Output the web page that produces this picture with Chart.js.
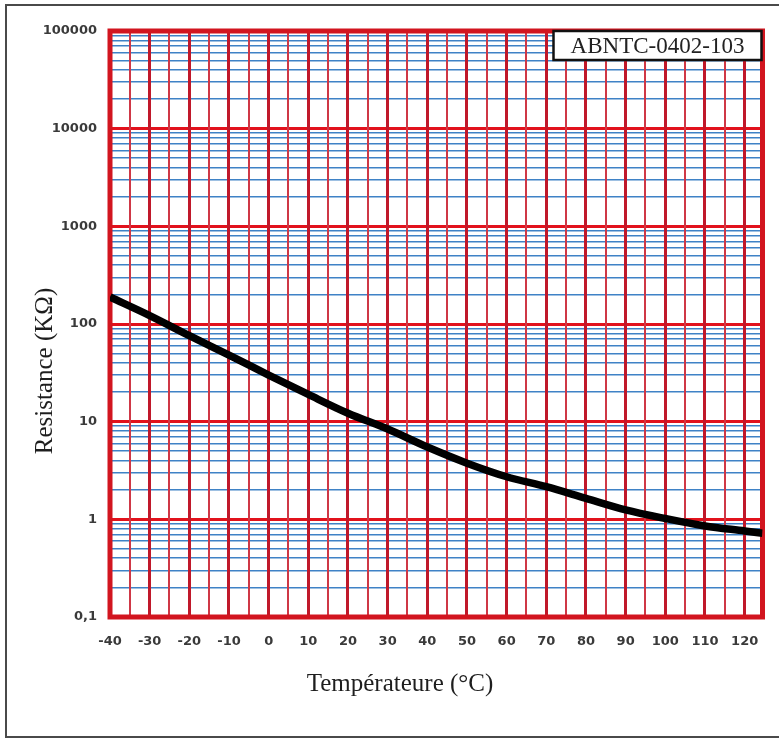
<!DOCTYPE html>
<html><head><meta charset="utf-8">
<script src="https://cdn.jsdelivr.net/npm/chart.js@4"></script>
<style>
html,body{margin:0;padding:0;background:#fff;overflow:hidden;}
#wrap{position:relative;width:779px;height:738px;background:#fff;}
#frame{position:absolute;left:5px;top:4px;width:800px;height:734px;border:2px solid #4a4a4a;box-sizing:border-box;pointer-events:none;}
canvas{position:absolute;left:0;top:0;}
</style></head><body>
<div id="wrap"><canvas id="c" width="779" height="738"></canvas><div id="frame"></div></div>
<script>
// ---- data ----
const temperatures = [-40, -30, -20, -10, 0, 10, 20, 30, 40, 50, 60, 70, 80, 90, 100, 110, 120, 124.5];
const resistance   = [189, 122, 76, 48, 30, 19, 12.2, 8.4, 5.5, 3.76, 2.73, 2.16, 1.64, 1.25, 1.02, 0.855, 0.76, 0.72];
const xGridValues  = [-40,-35,-30,-25,-20,-15,-10,-5,0,5,10,15,20,25,30,35,40,45,50,55,60,65,70,75,80,85,90,95,100,105,110,115,120];
const xTickLabels  = ['-40','-30','-20','-10','0','10','20','30','40','50','60','70','80','90','100','110','120'];
const yDecades     = [0.1, 1, 10, 100, 1000, 10000, 100000];
const yTickLabels  = ['0,1', '1', '10', '100', '1000', '10000', '100000'];
const minorMultipliers = [2, 3, 4, 5, 6, 7, 8, 9];
const seriesName   = 'ABNTC-0402-103';
const xTitle = 'Températeure (°C)';
const yTitle = 'Resistance (KΩ)';
const xMin = -40, xMax = 124.5;

const isDecade = v => Math.abs(Math.log10(v) - Math.round(Math.log10(v))) < 1e-9;

const borderPlugin = {
  id: 'plotBorder',
  beforeDatasetsDraw(chart) {
    const {ctx, chartArea: a} = chart;
    ctx.save();
    ctx.strokeStyle = '#d2151f';
    ctx.lineWidth = 5;
    ctx.strokeRect(a.left, a.top, a.right - a.left, a.bottom - a.top);
    ctx.restore();
  },
  afterDraw(chart) {
    const {ctx, chartArea: a} = chart;
    ctx.save();
    // series label box
    ctx.font = '23px "Liberation Serif", serif';
    const w = 208, h = 29;
    const x = a.right - w - 1, y = a.top;
    ctx.fillStyle = '#fff';
    ctx.fillRect(x, y, w, h);
    ctx.strokeStyle = '#111';
    ctx.lineWidth = 2.5;
    ctx.strokeRect(x, y, w, h);
    ctx.fillStyle = '#222';
    ctx.textAlign = 'center';
    ctx.textBaseline = 'middle';
    ctx.fillText(seriesName, x + w / 2, y + h / 2 + 1);
    // axis titles
    ctx.font = '25px "Liberation Serif", serif';
    ctx.fillStyle = '#1e1e1e';
    ctx.fillText(xTitle, 400, 684);
    ctx.translate(45, 371);
    ctx.rotate(-Math.PI / 2);
    ctx.fillText(yTitle, 0, 0);
    ctx.restore();
  }
};

new Chart(document.getElementById('c'), {
  type: 'line',
  data: {
    datasets: [{
      label: seriesName,
      data: temperatures.map((t, i) => ({x: t, y: resistance[i]})),
      borderColor: '#000',
      borderWidth: 7.5,
      pointRadius: 0,
      cubicInterpolationMode: 'monotone',
      fill: false
    }]
  },
  options: {
    responsive: false,
    animation: false,
    devicePixelRatio: 1,
    layout: {padding: {left: 0, right: 16.5, top: 31, bottom: 0}},
    plugins: {legend: {display: false}, tooltip: {enabled: false}},
    scales: {
      x: {
        type: 'linear',
        min: xMin, max: xMax,
        afterBuildTicks: s => { s.ticks = xGridValues.map(v => ({value: v})); },
        afterFit: s => { s.height = 121; },
        border: {display: false},
        grid: {
          z: -1,
          drawTicks: false,
          color: c => (c.tick && c.tick.value % 10 === 0) ? '#c0182a' : '#cf3846',
          lineWidth: c => (c.tick && c.tick.value % 10 === 0) ? 3 : 2
        },
        ticks: {
          padding: 17,
          autoSkip: false,
          maxRotation: 0,
          color: '#3a3a3a',
          font: {family: '"DejaVu Sans", sans-serif', size: 13, weight: 'bold'},
          callback: v => (v % 10 === 0) ? xTickLabels[(v + 40) / 10] : ''
        },
        title: {display: false}
      },
      y: {
        type: 'logarithmic',
        min: 0.1, max: 100000,
        afterBuildTicks: s => {
          const t = [];
          yDecades.forEach((d, i) => {
            t.push({value: d});
            if (i < yDecades.length - 1) minorMultipliers.forEach(m => t.push({value: d * m}));
          });
          s.ticks = t;
        },
        afterFit: s => { s.width = 110; },
        border: {display: false},
        grid: {
          z: -2,
          drawTicks: false,
          color: c => (c.tick && isDecade(c.tick.value)) ? '#e2121c' : '#3f82c6',
          lineWidth: c => (c.tick && isDecade(c.tick.value)) ? 3 : 1.6
        },
        ticks: {
          padding: 13,
          autoSkip: false,
          color: '#3a3a3a',
          font: {family: '"DejaVu Sans", sans-serif', size: 13, weight: 'bold'},
          callback: v => { const i = yDecades.findIndex(d => Math.abs(d - v) / d < 1e-9); return i >= 0 ? yTickLabels[i] : ''; }
        },
        title: {display: false}
      }
    }
  },
  plugins: [borderPlugin]
});
</script>
</body></html>
